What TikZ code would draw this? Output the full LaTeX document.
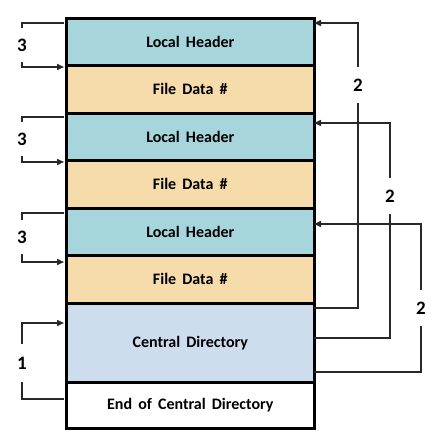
\documentclass[tikz,border=0pt]{standalone}
\usepackage{fontspec}
\setmainfont{Carlito}[WordSpace=1.7]
\usetikzlibrary{arrows.meta,calc}
\definecolor{lhc}{RGB}{166,213,220}
\definecolor{fdc}{RGB}{246,220,170}
\definecolor{cdc}{RGB}{206,221,238}
\definecolor{linec}{RGB}{40,40,40}
\begin{document}
\begin{tikzpicture}[x=1pt,y=-1pt,
  row/.style={draw=black,line width=2.6pt,minimum width=248pt,inner sep=0pt,font=\bfseries\fontsize{16}{16}\selectfont,anchor=north west},
  conn/.style={draw=linec,line width=1.5pt},
  arr/.style={conn,-{Triangle[length=7pt,width=6pt]}},
  num/.style={inner sep=0pt,minimum height=#1,font=\bfseries\fontsize{19}{19}\selectfont},
  num/.default=34pt]
\useasboundingbox (0,0) rectangle (434,435);
\node[row,fill=lhc,minimum height=47pt] (lh1) at (65,17) {Local Header};
\node[row,fill=fdc,minimum height=48pt] (fd1) at (65,64) {File Data \#};
\node[row,fill=lhc,minimum height=47pt] (lh2) at (65,112) {Local Header};
\node[row,fill=fdc,minimum height=48pt] (fd2) at (65,159) {File Data \#};
\node[row,fill=lhc,minimum height=47pt] (lh3) at (65,207) {Local Header};
\node[row,fill=fdc,minimum height=48pt] (fd3) at (65,254) {File Data \#};
\node[row,fill=cdc,minimum height=79pt] (cd) at (65,302) {Central Directory};
\node[row,fill=white,minimum height=46pt] (ecd) at (65,381) {End of Central Directory};
% left brackets
\node[num] (t1) at (22,45) {3};
\node[num] (t2) at (22,139) {3};
\node[num] (t3) at (22,237) {3};
\node[num=37pt] (o1) at (22,363) {1};
\coordinate (a1) at (64,23);  \coordinate (b1) at (64,67);
\coordinate (a2) at (64,117); \coordinate (b2) at (64,162);
\coordinate (a3) at (64,213); \coordinate (b3) at (64,262);
\coordinate (c1) at (64,323); \coordinate (d1) at (64,399);
\draw[conn] (a1) -| (t1.north);
\draw[arr] (t1.south) |- (b1);
\draw[conn] (a2) -| (t2.north);
\draw[arr] (t2.south) |- (b2);
\draw[conn] (a3) -| (t3.north);
\draw[arr] (t3.south) |- (b3);
\draw[arr] (o1.north) |- (c1);
\draw[conn] (o1.south) |- (d1);
% right brackets
\node[num=36pt] (s1) at (358,85) {2};
\node[num=36pt] (s2) at (390,196) {2};
\node[num=36pt] (s3) at (421,308) {2};
\coordinate (e1) at (314,23);  \coordinate (f1) at (314,308);
\coordinate (e2) at (314,123); \coordinate (f2) at (314,338);
\coordinate (e3) at (314,224); \coordinate (f3) at (314,372);
\draw[arr] (s1.north) |- (e1);
\draw[conn] (s1.south) |- (f1);
\draw[arr] (s2.north) |- (e2);
\draw[conn] (s2.south) |- (f2);
\draw[arr] (s3.north) |- (e3);
\draw[conn] (s3.south) |- (f3);
\end{tikzpicture}
\end{document}
